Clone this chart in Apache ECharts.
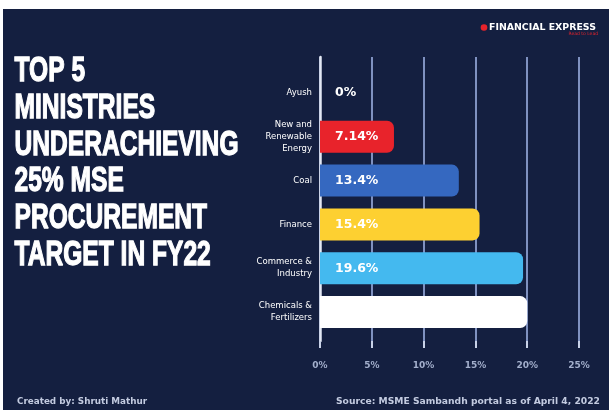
<!DOCTYPE html>
<html><head><meta charset="utf-8">
<script src="https://cdn.jsdelivr.net/npm/echarts@6/dist/echarts.min.js"></script>
<style>
html,body{margin:0;padding:0;background:#fff;}
#bg{position:absolute;left:3px;top:9px;width:606px;height:401px;background:#141f40;}
#chart{position:absolute;left:0;top:0;width:609px;height:410px;}
</style></head><body>
<div id="bg"></div><div id="chart"></div>
<script>
const categories = ['Ayush', 'New and\nRenewable\nEnergy', 'Coal', 'Finance', 'Commerce &\nIndustry', 'Chemicals &\nFertilizers'];
const values = [0, 7.14, 13.4, 15.4, 19.6, 20.0];
const valueLabels = ['0%', '7.14%', '13.4%', '15.4%', '19.6%', ''];
const barColors = ['#ffffff', '#e8232b', '#3568c0', '#fdd031', '#44b9ef', '#ffffff'];
const xTicks = [0, 5, 10, 15, 20, 25];
const titleLines = ['TOP 5', 'MINISTRIES', 'UNDERACHIEVING', '25% MSE', 'PROCUREMENT', 'TARGET IN FY22'];
const creditText = 'Created by: Shruti Mathur';
const sourceText = 'Source: MSME Sambandh portal as of April 4, 2022';

const titleFont = 'bold 35px "Liberation Sans Narrow", "Liberation Sans", sans-serif';
const ctx = document.createElement('canvas').getContext('2d');
ctx.font = titleFont;
const titleScale = 224 / ctx.measureText('UNDERACHIEVING').width;

const xMin = xTicks[0], xMax = xTicks[xTicks.length - 1], xInt = xTicks[1] - xTicks[0];

const chart = echarts.init(document.getElementById('chart'));
const graphics = titleLines.map((t, i) => ({
  type: 'text', x: 14.5, y: 71.5 + i * 36.7, scaleX: titleScale,
  style: { text: t, font: titleFont, fill: '#ffffff', stroke: '#ffffff', lineWidth: 1.3, verticalAlign: 'middle', align: 'left' }
}));
graphics.push(
  { type: 'circle', shape: { cx: 484, cy: 27.5, r: 3.3 }, style: { fill: '#e8232b' } },
  { type: 'text', x: 489, y: 27.5, style: { text: 'FINANCIAL EXPRESS', font: 'bold 9.4px "DejaVu Sans"', fill: '#ffffff', verticalAlign: 'middle' } },
  { type: 'text', x: 598, y: 34, style: { text: 'Read to Lead', font: '4.5px "DejaVu Sans"', fill: '#e8232b', verticalAlign: 'middle', align: 'right' } },
  { type: 'text', x: 17, y: 402, style: { text: creditText, font: 'bold 8.8px "DejaVu Sans"', fill: '#c3cbe0', verticalAlign: 'middle', align: 'left' } },
  { type: 'text', x: 600, y: 402, style: { text: sourceText, font: 'bold 9.2px "DejaVu Sans"', fill: '#c3cbe0', verticalAlign: 'middle', align: 'right' } }
);

chart.setOption({
  backgroundColor: 'transparent',
  animation: false,
  grid: [
    { left: 320, right: 30, top: 71, bottom: 76 },
    { left: 320, right: 30, top: 57, bottom: 69 }
  ],
  xAxis: [
    { gridIndex: 0, type: 'value', min: xMin, max: xMax, interval: xInt, show: false },
    { gridIndex: 1, type: 'value', min: xMin, max: xMax, interval: xInt,
      axisLine: { show: false },
      axisTick: { show: true, length: 7, lineStyle: { color: '#c9d2e8', width: 2 } },
      splitLine: { show: true, lineStyle: { color: '#7f91c0', width: 2 } },
      axisLabel: { formatter: '{value}%', color: '#a3afcc', fontSize: 9, fontWeight: 'bold', fontFamily: 'DejaVu Sans', margin: 20 } }
  ],
  yAxis: [
    { gridIndex: 0, type: 'category', data: categories, inverse: true,
      axisLine: { show: false }, axisTick: { show: false }, splitLine: { show: false },
      axisLabel: { color: '#ffffff', fontSize: 8.5, lineHeight: 12, margin: 8, fontFamily: 'DejaVu Sans', align: 'right' } },
    { gridIndex: 1, type: 'category', data: [''],
      axisLine: { show: true, lineStyle: { color: '#e3e8f4', width: 2.5 } },
      axisTick: { show: false }, axisLabel: { show: false }, splitLine: { show: false } }
  ],
  series: [{
    type: 'bar', xAxisIndex: 0, yAxisIndex: 0, barWidth: 32,
    data: values.map((v, i) => ({ value: v, itemStyle: { color: barColors[i] } })),
    itemStyle: { borderRadius: [0, 7, 7, 0] },
    label: { show: true, position: 'insideLeft', distance: 15,
      formatter: p => valueLabels[p.dataIndex],
      color: '#ffffff', fontWeight: 'bold', fontSize: 12.5, fontFamily: 'DejaVu Sans' }
  }],
  graphic: graphics
});
</script></body></html>
